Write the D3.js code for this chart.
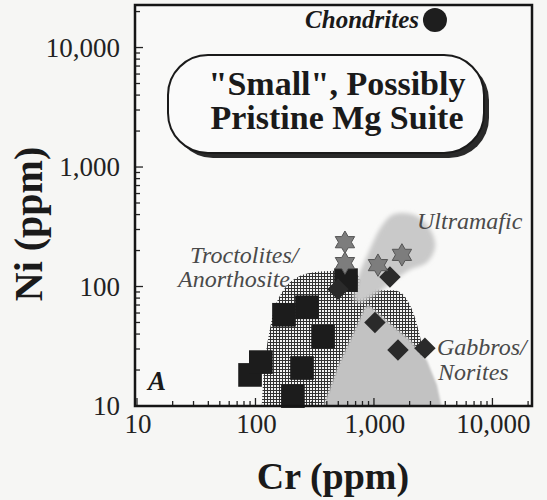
<!DOCTYPE html>
<html><head><meta charset="utf-8">
<script src="https://cdn.jsdelivr.net/npm/d3@7"></script>
<style>
html,body{margin:0;padding:0;background:#f6f6f4;}
svg{display:block;}
text{font-family:'Liberation Serif','Times New Roman',serif;}
</style></head><body>
<svg id="chart" width="547" height="500"></svg>
<script>
// ---------- data ----------
const xTicks = [10, 100, 1000, 10000];
const xTickLabels = ["10", "100", "1,000", "10,000"];
const yTicks = [10, 100, 1000, 10000];
const yTickLabels = ["10", "100", "1,000", "10,000"];

// Troctolites/Anorthosites (squares): Cr, Ni (ppm)
const troctCr = [174, 272, 372, 90, 111, 247, 207, 581];
const troctNi = [58, 67, 38, 18.2, 23.3, 20.8, 12.1, 113];
// Gabbros/Norites (diamonds)
const gabbroCr = [497, 1365, 1019, 1595, 2692];
const gabbroNi = [95, 120, 50, 29.4, 30.5];
// Ultramafic (stars)
const ultraCr = [569, 569, 1081, 1722];
const ultraNi = [235, 157, 151, 184];
// Chondrites
const chondCr = [3273];
const chondNi = [16980];

// Field outlines [Cr, Ni]
const troctField = [[112,8],[118,20],[130,40],[152,75],[195,108],[262,127],[425,135],[692,130],[840,103],[1125,94],[1657,90],[2014,70],[2350,45],[2550,30],[2650,8]];
const gabbroField = [[360,9],[500,22],[700,45],[830,66],[900,70],[1000,64],[1400,48],[2000,36],[2800,24],[3400,15],[3800,9]];
const ultraField = [[684,77],[712,109],[881,184],[1178,327],[1486,404],[2190,396],[2929,309],[3289,218],[2818,160],[1986,137],[1486,113],[1069,88],[783,74]];

// ---------- layout ----------
const L = 135, R = 532, T = 5, B = 406;
const svg = d3.select("#chart");
const x = d3.scaleLog().domain([10, 22000]).range([L + 2, R + 1]);
const y = d3.scaleLog().domain([10, 22700]).range([B, T]);

const defs = svg.append("defs");
const pat = defs.append("pattern").attr("id","hatch").attr("patternUnits","userSpaceOnUse")
  .attr("width",3).attr("height",3);
pat.append("rect").attr("width",3).attr("height",3).attr("fill","#f4f4f4");
pat.append("rect").attr("x",0).attr("y",0).attr("width",3).attr("height",1).attr("fill","#333");
pat.append("rect").attr("x",0).attr("y",0).attr("width",1).attr("height",3).attr("fill","#333");
defs.append("clipPath").attr("id","clip").append("rect")
  .attr("x",L).attr("y",T).attr("width",R-L).attr("height",B-T);
defs.append("filter").attr("id","soft").attr("x","-20%").attr("y","-20%").attr("width","140%").attr("height","140%")
  .append("feGaussianBlur").attr("stdDeviation",2.2);
defs.append("filter").attr("id","soft2").append("feGaussianBlur").attr("stdDeviation",0.9);

// plot background
svg.append("rect").attr("x",L).attr("y",T).attr("width",R-L).attr("height",B-T).attr("fill","#f9f9f8");

const plot = svg.append("g").attr("clip-path","url(#clip)");
const lineOpen = d3.line().x(d=>x(d[0])).y(d=>y(d[1])).curve(d3.curveCatmullRom.alpha(0.5));
const lineLin = d3.line().x(d=>x(d[0])).y(d=>y(d[1]));
const lineClosed = d3.line().x(d=>x(d[0])).y(d=>y(d[1])).curve(d3.curveCatmullRomClosed.alpha(0.5));

plot.append("path").attr("d", lineOpen(troctField)+"Z").attr("fill","url(#hatch)");
plot.append("path").attr("d", lineLin(gabbroField)+"Z").attr("fill","#c2c2c2").attr("filter","url(#soft2)");
plot.append("path").attr("d", lineClosed(ultraField)).attr("fill","#c9c9c9").attr("filter","url(#soft)");

// ticks
const tk = [];
for (const d of [10,100,1000,10000]) for (let k=1;k<=9;k++) tk.push({v:k*d, major:k===1});
const tg = svg.append("g").attr("stroke","#222").attr("stroke-width",1.3);
tk.filter(t=>t.v<=22700).forEach(t=>{
  const yy=y(t.v); const len=t.major?8:5;
  tg.append("line").attr("x1",L).attr("x2",L+len).attr("y1",yy).attr("y2",yy);
});
tk.filter(t=>t.v<=21000).forEach(t=>{
  const xx=x(t.v); const len=t.major?8:5;
  tg.append("line").attr("x1",xx).attr("x2",xx).attr("y1",B).attr("y2",B-len);
});

// marks
const sq = d3.symbol().type(d3.symbolSquare).size(560);
svg.append("g").selectAll("path").data(troctCr.map((c,i)=>[c,troctNi[i]])).join("path")
  .attr("d", sq).attr("transform", d=>`translate(${x(d[0])},${y(d[1])})`).attr("fill","#1c1c1c");

const dm = d3.symbol().type(d3.symbolSquare).size(230);
svg.append("g").selectAll("path").data(gabbroCr.map((c,i)=>[c,gabbroNi[i]])).join("path")
  .attr("d", dm).attr("transform", d=>`translate(${x(d[0])},${y(d[1])}) rotate(45)`).attr("fill","#2a2a2a");

const hexagram = { draw(ctx, size){
  const Ro = Math.sqrt(size)/2, Ri = Ro/Math.sqrt(3);
  for (let k=0;k<12;k++){
    const a = -Math.PI/2 + k*Math.PI/6; const r = k%2===0?Ro:Ri;
    const px=r*Math.cos(a), py=r*Math.sin(a);
    if(k===0) ctx.moveTo(px,py); else ctx.lineTo(px,py);
  }
  ctx.closePath();
}};
const st = d3.symbol().type(hexagram).size(500);
svg.append("g").selectAll("path").data(ultraCr.map((c,i)=>[c,ultraNi[i]])).join("path")
  .attr("d", st).attr("transform", d=>`translate(${x(d[0])},${y(d[1])})`)
  .attr("fill","#7d7d7d").attr("stroke","#555").attr("stroke-width",1);

svg.append("g").selectAll("circle").data(chondCr.map((c,i)=>[c,chondNi[i]])).join("circle")
  .attr("cx", d=>x(d[0])).attr("cy", d=>y(d[1])).attr("r",12).attr("fill","#1e1e1e");

// frame
svg.append("rect").attr("x",L).attr("y",T).attr("width",R-L).attr("height",B-T)
  .attr("fill","none").attr("stroke","#151515").attr("stroke-width",2.5);

// tick labels
svg.append("g").selectAll("text").data(yTicks).join("text")
  .attr("x",120).attr("y",d=>y(d)).attr("dy","0.35em").attr("text-anchor","end")
  .attr("font-size",27).attr("fill","#222").text((d,i)=>yTickLabels[i]);
svg.append("g").selectAll("text").data(xTicks).join("text")
  .attr("x",d=>x(d)+1).attr("y",433).attr("text-anchor","middle")
  .attr("font-size",27).attr("fill","#222").text((d,i)=>xTickLabels[i]);

// axis titles
svg.append("text").attr("x",333).attr("y",489).attr("text-anchor","middle")
  .attr("font-size",38).attr("font-weight","bold").attr("fill","#1a1a1a").text("Cr (ppm)");
svg.append("text").attr("transform","translate(42,224) rotate(-90)").attr("text-anchor","middle")
  .attr("font-size",40).attr("font-weight","bold").attr("fill","#1a1a1a").text("Ni (ppm)");

// title box
svg.append("rect").attr("x",173).attr("y",60).attr("width",316).attr("height",98).attr("rx",40)
  .attr("fill","#2a2a2a");
svg.append("rect").attr("x",168).attr("y",55).attr("width",316).attr("height",98).attr("rx",40)
  .attr("fill","#fafafa").attr("stroke","#1a1a1a").attr("stroke-width",2);
svg.append("text").attr("x",337).attr("y",95).attr("text-anchor","middle")
  .attr("font-size",34).attr("font-weight","bold").attr("fill","#1a1a1a").text("\"Small\", Possibly");
svg.append("text").attr("x",337).attr("y",129).attr("text-anchor","middle")
  .attr("font-size",34).attr("font-weight","bold").attr("fill","#1a1a1a").text("Pristine Mg Suite");

// annotations
svg.append("text").attr("x",419).attr("y",28).attr("text-anchor","end")
  .attr("font-size",25).attr("font-weight","bold").attr("font-style","italic").attr("fill","#1a1a1a").text("Chondrites");
const ann = [
  {t:"Ultramafic", x:417, y:229},
  {t:"Troctolites/", x:190, y:263},
  {t:"Anorthosite", x:178, y:287},
  {t:"Gabbros/", x:437, y:355},
  {t:"Norites", x:438, y:380}
];
svg.append("g").selectAll("text").data(ann).join("text")
  .attr("x",d=>d.x).attr("y",d=>d.y).attr("font-size",24).attr("font-style","italic")
  .attr("fill","#4a4a4a").text(d=>d.t);
svg.append("text").attr("x",148).attr("y",390).attr("font-size",27).attr("font-weight","bold")
  .attr("font-style","italic").attr("fill","#1a1a1a").text("A");
</script>
</body></html>
